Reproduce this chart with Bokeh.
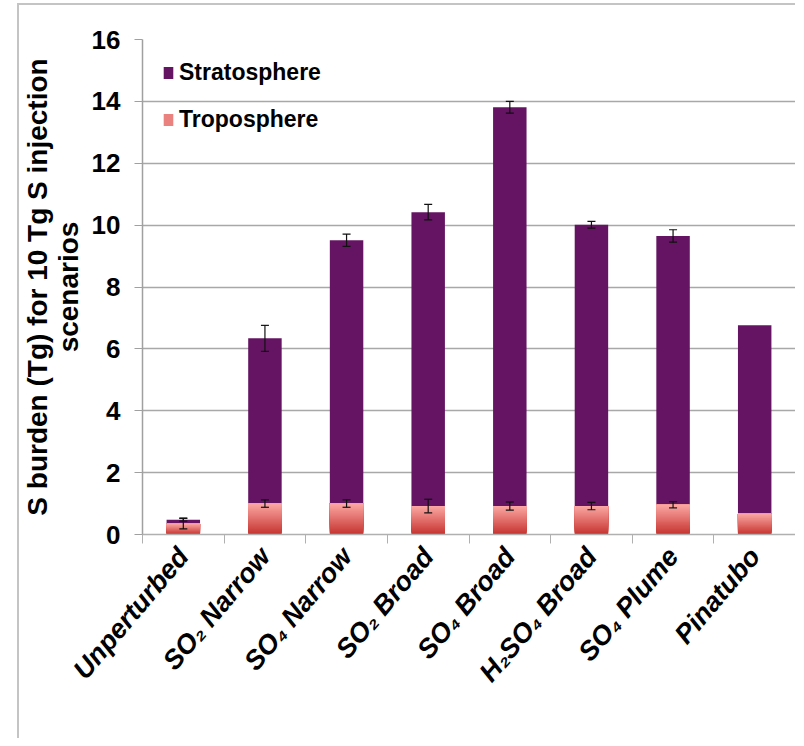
from bokeh.plotting import figure
from bokeh.models import (ColumnDataSource, Whisker, TeeHead, FixedTicker, Legend,
                          LegendItem, Range1d, Title)
from bokeh.embed import file_html
from bokeh.resources import INLINE

# ---------------- data ----------------
categories = ["Unperturbed", "SO\u2082 Narrow", "SO\u2084 Narrow", "SO\u2082 Broad",
              "SO\u2084 Broad", "H\u2082SO\u2084 Broad", "SO\u2084 Plume", "Pinatubo"]
troposphere = [0.35, 1.00, 1.00, 0.92, 0.92, 0.92, 0.96, 0.67]
stratosphere = [0.13, 5.34, 8.51, 9.50, 12.89, 9.09, 8.69, 6.09]
troposphere_err = [0.17, 0.12, 0.12, 0.22, 0.13, 0.12, 0.10, 0.0]
total_err = [0.05, 0.42, 0.20, 0.25, 0.19, 0.11, 0.20, 0.0]
y_ticks = [0, 2, 4, 6, 8, 10, 12, 14, 16]
y_title_line1 = "S burden (Tg) for 10 Tg S injection"
y_title_line2 = "scenarios"

# ---------------- derived ----------------
xs = list(range(len(categories)))
totals = [t + s for t, s in zip(troposphere, stratosphere)]

STRAT_COLOR = "#641462"
TOP_PINK = (250, 166, 162)
BOT_RED = (198, 52, 48)
N_SLICES = 30


def mix(k):
    f = k / (N_SLICES - 1)
    c = tuple(round(BOT_RED[j] + (TOP_PINK[j] - BOT_RED[j]) * f) for j in range(3))
    return "#%02x%02x%02x" % c


# gradient: stacked rects, each running from its level up to the segment top,
# drawn bottom-up so every later one covers the previous (no seams)
grad = dict(x=[], bottom=[], top=[], color=[])
for i, t in zip(xs, troposphere):
    for k in range(N_SLICES):
        grad["x"].append(i)
        grad["bottom"].append(t * k / N_SLICES)
        grad["top"].append(t)
        grad["color"].append(mix(k))

strat_src = ColumnDataSource(dict(x=xs, bottom=troposphere, top=totals))
grad_src = ColumnDataSource(grad)

err_x, err_lo, err_hi = [], [], []
for i in xs:
    if troposphere_err[i] > 0:
        err_x.append(i)
        err_lo.append(troposphere[i] - troposphere_err[i])
        err_hi.append(troposphere[i] + troposphere_err[i])
    if total_err[i] > 0:
        err_x.append(i)
        err_lo.append(totals[i] - total_err[i])
        err_hi.append(totals[i] + total_err[i])
err_src = ColumnDataSource(dict(x=err_x, lower=err_lo, upper=err_hi))

# ---------------- figure ----------------
p = figure(width=778, height=735, output_backend="svg", toolbar_location=None,
           x_range=Range1d(-0.5, len(categories) - 0.5), y_range=Range1d(0, 16),
           min_border_left=123, min_border_right=2, min_border_top=34, min_border_bottom=206)
p.styles = {"margin-left": "17px", "margin-top": "3px",
            "border-left": "2px solid #c4c4c4", "border-top": "2px solid #c4c4c4"}
p.outline_line_color = None
p.background_fill_color = "white"
p.border_fill_color = "white"

BAR_W = 0.41
strat_r = p.vbar(x="x", bottom="bottom", top="top", width=BAR_W, source=strat_src,
                 fill_color=STRAT_COLOR, line_color=None)
trop_r = p.vbar(x="x", bottom="bottom", top="top", width=BAR_W, source=grad_src,
                fill_color="color", line_color=None)

head = dict(size=8, line_color="#111111", line_width=1.2)
p.add_layout(Whisker(base="x", lower="lower", upper="upper", source=err_src,
                     line_color="#111111", line_width=1.2, level="overlay",
                     upper_head=TeeHead(**head), lower_head=TeeHead(**head)))

# axes
FONT = "Liberation Sans"
xa = p.xaxis[0]
xa.ticker = FixedTicker(ticks=xs, minor_ticks=[i - 0.5 for i in range(len(categories) + 1)])
xa.major_label_overrides = {i: c for i, c in zip(xs, categories)}
xa.major_label_orientation = 0.87
xa.major_tick_out = 0
xa.major_tick_in = 0
xa.minor_tick_out = 9
xa.minor_tick_in = 0
xa.minor_tick_line_color = "#b0b0b0"
xa.axis_line_color = "#b0b0b0"
xa.axis_line_width = 1.5
xa.major_label_text_font = FONT
xa.major_label_text_font_style = "bold italic"
xa.major_label_text_font_size = "27px"
xa.major_label_text_color = "black"
xa.major_label_standoff = 8

ya = p.yaxis[0]
ya.ticker = FixedTicker(ticks=y_ticks)
ya.major_tick_out = 8
ya.major_tick_in = 0
ya.minor_tick_line_color = None
ya.major_tick_line_color = "#a0a0a0"
ya.axis_line_color = "#a0a0a0"
ya.axis_line_width = 1.5
ya.major_label_text_font = FONT
ya.major_label_text_font_style = "bold"
ya.major_label_text_font_size = "26px"
ya.major_label_text_color = "black"
ya.major_label_standoff = 14
ya.axis_label = y_title_line2
ya.axis_label_text_font = FONT
ya.axis_label_text_font_style = "bold"
ya.axis_label_text_font_size = "28px"
ya.axis_label_text_color = "black"
ya.axis_label_standoff = 5

t1 = Title(text=y_title_line1, align="center", text_font=FONT, text_font_style="bold",
           text_font_size="28px", text_color="black", standoff=-7, offset=26)
p.add_layout(t1, "left")

p.xgrid.grid_line_color = None
p.ygrid.grid_line_color = "#a8a8a8"
p.ygrid.grid_line_width = 1.5

legend = Legend(items=[
    LegendItem(label="Stratosphere", renderers=[strat_r]),
    LegendItem(label="Troposphere", renderers=[trop_r], index=N_SLICES * 2 // 3),
], location="top_left")
legend.label_text_font = FONT
legend.label_text_font_style = "bold"
legend.label_text_font_size = "23px"
legend.label_text_color = "black"
legend.glyph_width = 12
legend.glyph_height = 15
legend.spacing = 20
legend.padding = 0
legend.margin = 20
legend.label_standoff = 5
legend.border_line_color = None
legend.background_fill_alpha = 0
p.add_layout(legend)

open("out.html", "w").write(file_html(p, INLINE))
